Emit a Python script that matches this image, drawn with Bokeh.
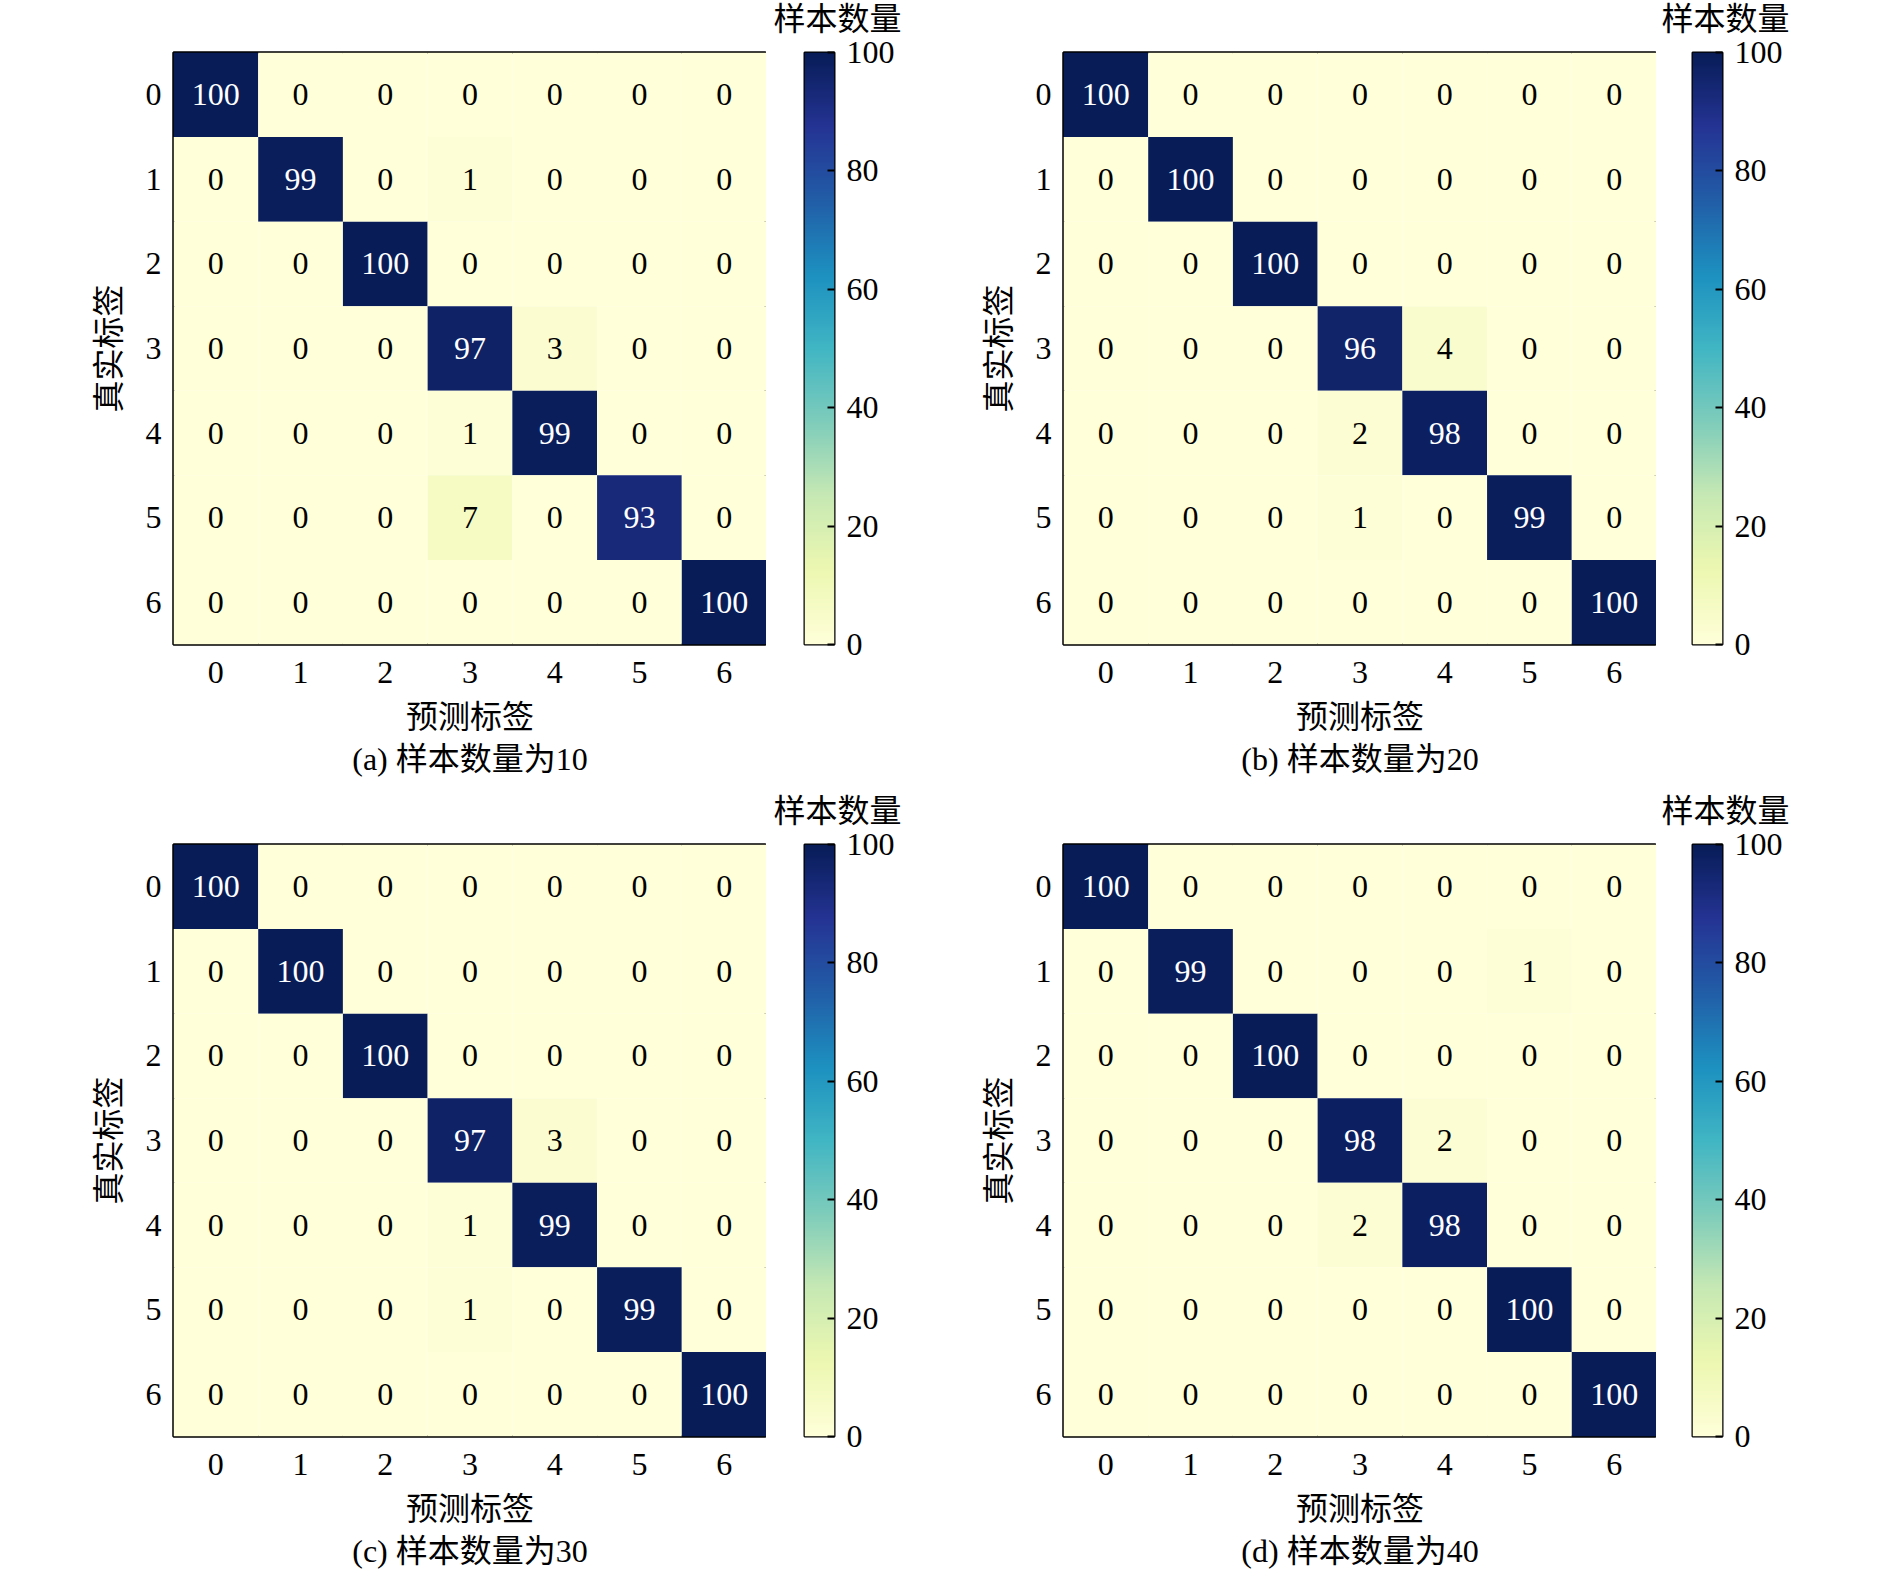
import numpy as np
from bokeh.plotting import figure
from bokeh.models import (ColumnDataSource, FactorRange, Range1d, LinearColorMapper,
                          FixedTicker, Title)
from bokeh.layouts import row, column
from bokeh.transform import transform
from bokeh.palettes import YlGnBu9, interp_palette
from bokeh.core.properties import value
from bokeh.embed import file_html
from bokeh.resources import INLINE

# ---------------- data ----------------
class_labels = ["0", "1", "2", "3", "4", "5", "6"]

cm_a = [
    [100, 0, 0, 0, 0, 0, 0],
    [0, 99, 0, 1, 0, 0, 0],
    [0, 0, 100, 0, 0, 0, 0],
    [0, 0, 0, 97, 3, 0, 0],
    [0, 0, 0, 1, 99, 0, 0],
    [0, 0, 0, 7, 0, 93, 0],
    [0, 0, 0, 0, 0, 0, 100],
]
cm_b = [
    [100, 0, 0, 0, 0, 0, 0],
    [0, 100, 0, 0, 0, 0, 0],
    [0, 0, 100, 0, 0, 0, 0],
    [0, 0, 0, 96, 4, 0, 0],
    [0, 0, 0, 2, 98, 0, 0],
    [0, 0, 0, 1, 0, 99, 0],
    [0, 0, 0, 0, 0, 0, 100],
]
cm_c = [
    [100, 0, 0, 0, 0, 0, 0],
    [0, 100, 0, 0, 0, 0, 0],
    [0, 0, 100, 0, 0, 0, 0],
    [0, 0, 0, 97, 3, 0, 0],
    [0, 0, 0, 1, 99, 0, 0],
    [0, 0, 0, 1, 0, 99, 0],
    [0, 0, 0, 0, 0, 0, 100],
]
cm_d = [
    [100, 0, 0, 0, 0, 0, 0],
    [0, 99, 0, 0, 0, 1, 0],
    [0, 0, 100, 0, 0, 0, 0],
    [0, 0, 0, 98, 2, 0, 0],
    [0, 0, 0, 2, 98, 0, 0],
    [0, 0, 0, 0, 0, 100, 0],
    [0, 0, 0, 0, 0, 0, 100],
]
subtitles = ["(a) 样本数量为10", "(b) 样本数量为20", "(c) 样本数量为30", "(d) 样本数量为40"]
x_title = "预测标签"
y_title = "真实标签"
cbar_title = "样本数量"
cbar_ticks = [0, 20, 40, 60, 80, 100]
vmin, vmax = 0, 100

# ---------------- style ----------------
FONT = "'Liberation Serif', 'Noto Sans CJK SC'"
FS = "32px"
palette = interp_palette(tuple(reversed(YlGnBu9)), 256)
TOP = 52          # space above each heat map
FRAME_W, FRAME_H = 593, 592
CB_W = 30


def heatmap(cm, subtitle, left, bottom):
    mapper = LinearColorMapper(palette=palette, low=vmin, high=vmax)
    xs, ys, vs, ts, tcs = [], [], [], [], []
    for i, r in enumerate(cm):
        for j, v in enumerate(r):
            xs.append(class_labels[j])
            ys.append(class_labels[i])
            vs.append(v)
            ts.append(str(v))
            tcs.append("white" if v > (vmin + vmax) / 2 else "black")
    src = ColumnDataSource(dict(x=xs, y=ys, v=vs, t=ts, tc=tcs))
    p = figure(x_range=FactorRange(factors=class_labels),
               y_range=FactorRange(factors=class_labels[::-1]),
               frame_width=FRAME_W, frame_height=FRAME_H,
               min_border_left=left, min_border_right=0,
               min_border_top=TOP, min_border_bottom=bottom,
               toolbar_location=None, output_backend="svg",
               background_fill_color="white", border_fill_color="white")
    p.rect(x="x", y="y", width=1, height=1, source=src,
           fill_color=transform("v", mapper), line_color=None)
    p.text(x="x", y="y", text="t", text_color="tc", source=src,
           text_align="center", text_baseline="middle",
           text_font=value(FONT), text_font_size=value(FS))
    p.grid.visible = False
    p.outline_line_color = "black"
    p.outline_line_width = 2.5
    for ax in (p.xaxis[0], p.yaxis[0]):
        ax.major_tick_line_color = None
        ax.major_tick_out = 0
        ax.major_tick_in = 0
        ax.minor_tick_line_color = None
        ax.axis_line_color = None
        ax.major_label_text_font = FONT
        ax.major_label_text_font_size = FS
        ax.major_label_text_color = "black"
        ax.axis_label_text_font = FONT
        ax.axis_label_text_font_size = FS
        ax.axis_label_text_font_style = "normal"
        ax.axis_label_text_color = "black"
    p.xaxis.axis_label = x_title
    p.yaxis.axis_label = y_title
    p.xaxis.major_label_standoff = 17
    p.yaxis.major_label_standoff = 12
    p.xaxis.axis_label_standoff = 13
    p.yaxis.axis_label_standoff = 16
    p.yaxis.major_label_orientation = "horizontal"
    p.add_layout(Title(text=subtitle, align="center", text_font=FONT,
                       text_font_size=FS, text_font_style="normal",
                       text_color="black", standoff=2, offset=0), "below")
    return p


def colorbar(left, right, bottom):
    mapper = LinearColorMapper(palette=palette, low=vmin, high=vmax)
    p = figure(x_range=Range1d(0, 1), y_range=Range1d(vmin, vmax),
               frame_width=CB_W, frame_height=FRAME_H,
               min_border_left=left, min_border_right=right,
               min_border_top=TOP, min_border_bottom=bottom,
               x_axis_location=None, y_axis_location="right",
               toolbar_location=None, output_backend="svg",
               background_fill_color="white", border_fill_color="white")
    grad = np.linspace(vmin, vmax, 256).reshape(256, 1)
    p.image(image=[grad], x=0, y=vmin, dw=1, dh=vmax - vmin, color_mapper=mapper)
    p.grid.visible = False
    p.outline_line_color = "black"
    p.outline_line_width = 2
    ax = p.yaxis[0]
    ax.ticker = FixedTicker(ticks=cbar_ticks)
    ax.major_tick_in = 7
    ax.major_tick_out = 0
    ax.major_tick_line_width = 2
    ax.major_tick_line_color = "black"
    ax.minor_tick_line_color = None
    ax.axis_line_color = None
    ax.major_label_standoff = 12
    ax.major_label_text_font = FONT
    ax.major_label_text_font_size = FS
    ax.major_label_text_color = "black"
    # thin spacer panel next to the bar, then the colour-bar title above it
    p.add_layout(Title(text=" ", text_font_size="1px", standoff=11), "above")
    p.add_layout(Title(text=cbar_title, align="left", offset=-31, standoff=0,
                       vertical_align="top",
                       text_font=FONT, text_font_size=FS, text_font_style="normal",
                       text_color="black"), "above")
    return p


BOT1 = 148
BOT2 = 139

row1 = row(heatmap(cm_a, subtitles[0], 173, BOT1), colorbar(38, 79, BOT1),
           heatmap(cm_b, subtitles[1], 150, BOT1), colorbar(36, 100, BOT1))
row2 = row(heatmap(cm_c, subtitles[2], 173, BOT2), colorbar(38, 79, BOT2),
           heatmap(cm_d, subtitles[3], 150, BOT2), colorbar(36, 100, BOT2))
layout = column(row1, row2)

open("out.html", "w").write(file_html(layout, INLINE))
